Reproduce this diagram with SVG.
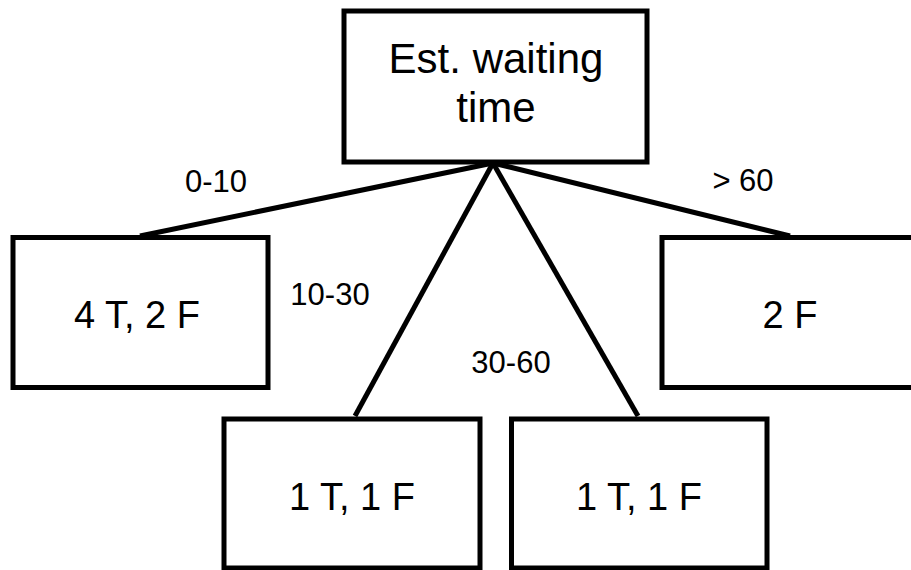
<svg xmlns="http://www.w3.org/2000/svg" width="911" height="570" viewBox="0 0 911 570">
<style>
.box{fill:#fff;stroke:#000;stroke-width:5}
.edge{stroke:#000;stroke-width:5;fill:none}
.t{font-family:"Liberation Sans",Arial,sans-serif;fill:#000;text-anchor:middle}
.big{font-size:42px}
.leaf{font-size:38px}
.lbl{font-size:31px}
</style>
<rect x="0" y="0" width="911" height="570" fill="#fff"/>
<g id="connectors">
<line class="edge" x1="493" y1="163" x2="140" y2="236"/>
<line class="edge" x1="493" y1="163" x2="355" y2="416"/>
<line class="edge" x1="493" y1="163" x2="638" y2="416"/>
<line class="edge" x1="493" y1="163" x2="790" y2="236"/>
<text class="t lbl" x="216" y="192">0-10</text>
<text class="t lbl" x="330" y="305">10-30</text>
<text class="t lbl" x="511" y="373">30-60</text>
<text class="t lbl" x="743" y="191">&gt; 60</text>
</g>
<g id="root">
<rect class="box" x="344" y="11" width="303" height="151"/>
<text class="t big" x="496" y="73">Est. waiting</text>
<text class="t big" x="496" y="122">time</text>
</g>
<g id="leaf1">
<rect class="box" x="13" y="237.5" width="255" height="150"/>
<text class="t leaf" x="137" y="328">4 T, 2 F</text>
</g>
<g id="leaf2">
<rect class="box" x="224" y="419" width="256" height="149"/>
<text class="t leaf" x="352" y="510">1 T, 1 F</text>
</g>
<g id="leaf3">
<rect class="box" x="511.5" y="419" width="255.5" height="149"/>
<text class="t leaf" x="639" y="510">1 T, 1 F</text>
</g>
<g id="leaf4">
<rect class="box" x="662" y="237.5" width="300" height="150"/>
<text class="t leaf" x="790" y="328">2 F</text>
</g>
</svg>
